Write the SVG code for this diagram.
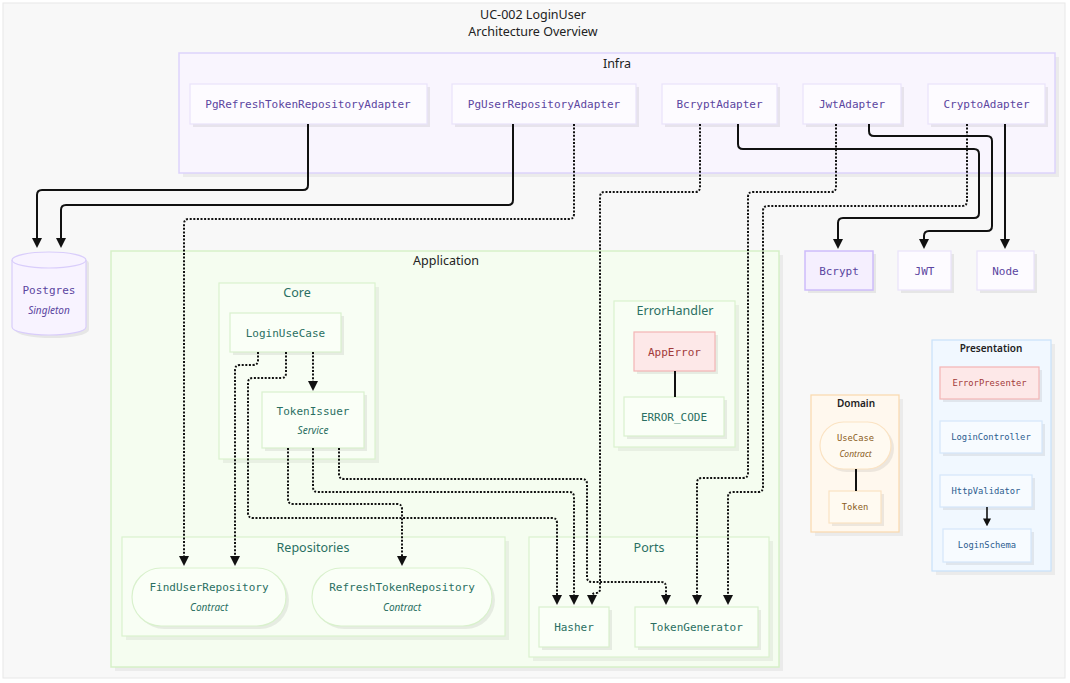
<svg xmlns="http://www.w3.org/2000/svg" width="1070" height="683" viewBox="0 0 1070 683">
<style>
text{font-family:"Noto Sans","Liberation Sans",sans-serif;text-anchor:middle;dominant-baseline:central}
.title{font-size:12.5px;fill:#222}
.glab{font-size:12.5px;fill:#222}
.glabt{font-size:12.5px;fill:#2a6f62}
.glabs{font-size:10px;font-weight:600;fill:#222}
.mono{font-family:"DejaVu Sans Mono","Liberation Mono",monospace;font-size:11px}
.monos{font-family:"DejaVu Sans Mono","Liberation Mono",monospace;font-size:8.8px}
.sub{font-style:italic;font-size:10px}
.subs{font-style:italic;font-size:8.5px}
.sh{fill:#000;opacity:.07}
.shc{fill:#000;opacity:.05}
.inf{fill:#fdfbff;stroke:#e9e3fb;stroke-width:1.2}
.inft{fill:#5b45a0}
.app{fill:#fafff7;stroke:#d9f1cd;stroke-width:1.2}
.appt{fill:#2a6f62}
.err{fill:#fde8e8;stroke:#f3b4b4;stroke-width:1.2}
.errt{fill:#a23a3a}
.pre{fill:#f7fbff;stroke:#d4e7fa;stroke-width:1.2}
.pret{fill:#2c5c8f}
.dom{fill:#fffaf1;stroke:#fbe3c3;stroke-width:1.2}
.domt{fill:#8a5c1c}
.ln{fill:none;stroke:#111;stroke-width:2}
.dt{fill:none;stroke:#111;stroke-width:2;stroke-dasharray:2 1.6}
</style>
<defs>
<marker id="ah" markerUnits="userSpaceOnUse" viewBox="0 0 10 10" refX="2" refY="5" markerWidth="10" markerHeight="10" orient="auto">
<path d="M0,0 L10,5 L0,10 z" fill="#111"/>
</marker>
<marker id="ahs" markerUnits="userSpaceOnUse" viewBox="0 0 10 10" refX="2" refY="5" markerWidth="8" markerHeight="8" orient="auto">
<path d="M0,0 L10,5 L0,10 z" fill="#111"/>
</marker>
</defs>
<rect x="0" y="0" width="1070" height="683" fill="#ffffff"/>
<rect x="3" y="3" width="1062" height="675" fill="#f8f8f8" stroke="#e8e8e8"/>
<text class="title" x="533" y="14">UC-002 LoginUser</text>
<text class="title" x="533" y="31">Architecture Overview</text>

<g id="cluster-infra">
<rect class="shc" x="183" y="57" width="876" height="120"/>
<rect x="179" y="53" width="876" height="120" fill="#f9f5fe" stroke="#ddd3fb" stroke-width="1.5"/>
<text class="glab" x="617" y="63">Infra</text>
</g>
<g id="cluster-application">
<rect class="shc" x="115" y="255" width="668" height="416"/>
<rect x="111" y="251" width="668" height="416" fill="#f5fdf0" stroke="#d6f1c8" stroke-width="1.5"/>
<text class="glab" x="446" y="260">Application</text>
</g>
<g id="cluster-core">
<rect class="shc" x="223" y="287" width="156" height="176"/>
<rect x="219" y="283" width="156" height="176" fill="#f8fef4" stroke="#daf2ce" stroke-width="1.2"/>
<text class="glabt" x="297" y="292">Core</text>
</g>
<g id="cluster-errorhandler">
<rect class="shc" x="618" y="305" width="121" height="146"/>
<rect x="614" y="301" width="121" height="146" fill="#f8fef4" stroke="#daf2ce" stroke-width="1.2"/>
<text class="glabt" x="675" y="310">ErrorHandler</text>
</g>
<g id="cluster-repositories">
<rect class="shc" x="126" y="541" width="383" height="99"/>
<rect x="122" y="537" width="383" height="99" fill="#f8fef4" stroke="#daf2ce" stroke-width="1.2"/>
<text class="glabt" x="313" y="547">Repositories</text>
</g>
<g id="cluster-ports">
<rect class="shc" x="533" y="541" width="240" height="120"/>
<rect x="529" y="537" width="240" height="120" fill="#f8fef4" stroke="#daf2ce" stroke-width="1.2"/>
<text class="glabt" x="649" y="547">Ports</text>
</g>
<g id="cluster-domain">
<rect class="shc" x="815" y="399" width="88" height="137"/>
<rect x="811" y="395" width="88" height="137" fill="#fff8ee" stroke="#fad9ad" stroke-width="1.2"/>
<text class="glabs" x="856" y="403">Domain</text>
</g>
<g id="cluster-presentation">
<rect class="shc" x="936" y="344" width="119" height="231"/>
<rect x="932" y="340" width="119" height="231" fill="#f1f8ff" stroke="#c9e2fa" stroke-width="1.2"/>
<text class="glabs" x="991" y="348">Presentation</text>
</g>

<g id="node-pgrefresh"><rect class="sh" x="193" y="87" width="237" height="40"/><rect class="inf" x="190" y="84" width="237" height="40"/><text class="mono inft" x="308" y="104">PgRefreshTokenRepositoryAdapter</text></g>
<g id="node-pguser"><rect class="sh" x="455" y="87" width="184" height="40"/><rect class="inf" x="452" y="84" width="184" height="40"/><text class="mono inft" x="544" y="104">PgUserRepositoryAdapter</text></g>
<g id="node-bcryptadapter"><rect class="sh" x="665" y="87" width="115" height="40"/><rect class="inf" x="662" y="84" width="115" height="40"/><text class="mono inft" x="719.5" y="104">BcryptAdapter</text></g>
<g id="node-jwtadapter"><rect class="sh" x="806" y="87" width="98" height="40"/><rect class="inf" x="803" y="84" width="98" height="40"/><text class="mono inft" x="852" y="104">JwtAdapter</text></g>
<g id="node-cryptoadapter"><rect class="sh" x="931" y="87" width="117" height="40"/><rect class="inf" x="928" y="84" width="117" height="40"/><text class="mono inft" x="986.5" y="104">CryptoAdapter</text></g>

<g id="node-postgres">
<path class="sh" d="M15,263 A37,8 0 0,1 89,263 V330 A37,8 0 0,1 15,330 Z"/>
<path d="M12,260 A37,8 0 0,1 86,260 V327 A37,8 0 0,1 12,327 Z" fill="#f8f3ff" stroke="#d9cdfb" stroke-width="1.2"/>
<path d="M12,260 A37,8 0 0,0 86,260" fill="none" stroke="#d9cdfb" stroke-width="1.2"/>
<text class="mono inft" x="49" y="290">Postgres</text>
<text class="sub inft" x="49" y="310">Singleton</text>
</g>
<g id="node-bcrypt"><rect class="sh" x="808" y="254" width="68" height="39"/><rect x="805" y="251" width="68" height="39" fill="#f5effe" stroke="#cdbcfa" stroke-width="1.5"/><text class="mono inft" x="839" y="271">Bcrypt</text></g>
<g id="node-jwt"><rect class="sh" x="901" y="254" width="53" height="39"/><rect class="inf" x="898" y="251" width="53" height="39"/><text class="mono inft" x="924.5" y="271">JWT</text></g>
<g id="node-node"><rect class="sh" x="980" y="254" width="57" height="39"/><rect class="inf" x="977" y="251" width="57" height="39"/><text class="mono inft" x="1005.5" y="271">Node</text></g>

<g id="node-loginusecase"><rect class="sh" x="233" y="316" width="111" height="39"/><rect class="app" x="230" y="313" width="111" height="39"/><text class="mono appt" x="285.5" y="333">LoginUseCase</text></g>
<g id="node-tokenissuer"><rect class="sh" x="265" y="395" width="102" height="56"/><rect class="app" x="262" y="392" width="102" height="56"/><text class="mono appt" x="313" y="411">TokenIssuer</text><text class="sub appt" x="313" y="430">Service</text></g>
<g id="node-apperror"><rect class="sh" x="637" y="335" width="81" height="39"/><rect class="err" x="634" y="332" width="81" height="39"/><text class="mono errt" x="674.5" y="352">AppError</text></g>
<g id="node-errorcode"><rect class="sh" x="627" y="400" width="100" height="39"/><rect class="app" x="624" y="397" width="100" height="39"/><text class="mono appt" x="674" y="417">ERROR_CODE</text></g>
<g id="node-finduserrepository"><rect class="sh" x="135" y="571" width="154" height="58" rx="29"/><rect class="app" x="132" y="568" width="154" height="58" rx="29"/><text class="mono appt" x="209" y="587">FindUserRepository</text><text class="sub appt" x="209" y="607">Contract</text></g>
<g id="node-refreshtokenrepository"><rect class="sh" x="315" y="571" width="180" height="58" rx="29"/><rect class="app" x="312" y="568" width="180" height="58" rx="29"/><text class="mono appt" x="402" y="587">RefreshTokenRepository</text><text class="sub appt" x="402" y="607">Contract</text></g>
<g id="node-hasher"><rect class="sh" x="542" y="610" width="70" height="40"/><rect class="app" x="539" y="607" width="70" height="40"/><text class="mono appt" x="574" y="627">Hasher</text></g>
<g id="node-tokengenerator"><rect class="sh" x="638" y="610" width="123" height="40"/><rect class="app" x="635" y="607" width="123" height="40"/><text class="mono appt" x="696.5" y="627">TokenGenerator</text></g>

<g id="node-usecase"><rect class="sh" x="823" y="425" width="71" height="47" rx="23.5"/><rect class="dom" x="820" y="422" width="71" height="47" rx="23.5"/><text class="monos domt" x="855.5" y="438">UseCase</text><text class="subs domt" x="855.5" y="453">Contract</text></g>
<g id="node-token"><rect class="sh" x="832" y="494" width="52" height="32"/><rect class="dom" x="829" y="491" width="52" height="32"/><text class="monos domt" x="855" y="507">Token</text></g>

<g id="node-errorpresenter"><rect class="sh" x="943" y="370" width="99" height="32"/><rect class="err" x="940" y="367" width="99" height="32"/><text class="monos errt" x="989.5" y="383">ErrorPresenter</text></g>
<g id="node-logincontroller"><rect class="sh" x="943" y="424" width="102" height="32"/><rect class="pre" x="940" y="421" width="102" height="32"/><text class="monos pret" x="991" y="437">LoginController</text></g>
<g id="node-httpvalidator"><rect class="sh" x="943" y="478" width="92" height="32"/><rect class="pre" x="940" y="475" width="92" height="32"/><text class="monos pret" x="986" y="491">HttpValidator</text></g>
<g id="node-loginschema"><rect class="sh" x="946" y="532" width="88" height="33"/><rect class="pre" x="943" y="529" width="88" height="33"/><text class="monos pret" x="987" y="545">LoginSchema</text></g>

<g id="connectors">
<path class="ln" marker-end="url(#ah)" d="M308,124 V185 Q308,190 303,190 H42 Q37,190 37,195 V240"/>
<path class="ln" marker-end="url(#ah)" d="M513,124 V200 Q513,205 508,205 H66 Q61,205 61,210 V240"/>
<path class="dt" marker-end="url(#ah)" d="M574,124 V214 Q574,219 569,219 H189 Q184,219 184,224 V558"/>
<path class="dt" marker-end="url(#ah)" d="M700,124 V187 Q700,192 695,192 H605 Q600,192 600,197 V589 Q600,593 596,593 Q592,593 592,597"/>
<path class="ln" marker-end="url(#ah)" d="M738,124 V144 Q738,149 743,149 H974 Q979,149 979,154 V213 Q979,218 974,218 H843 Q838,218 838,223 V241"/>
<path class="dt" marker-end="url(#ah)" d="M836,124 V187 Q836,192 831,192 H753 Q748,192 748,197 V473 Q748,478 743,478 H702 Q697,478 697,483 V597"/>
<path class="ln" marker-end="url(#ah)" d="M869,124 V131 Q869,136 874,136 H987 Q992,136 992,141 V226 Q992,231 987,231 H929 Q924,231 924,236 V241"/>
<path class="dt" marker-end="url(#ah)" d="M967,124 V201 Q967,206 962,206 H768 Q763,206 763,211 V487 Q763,492 758,492 H733 Q728,492 728,497 V597"/>
<path class="ln" marker-end="url(#ah)" d="M1005,124 V241"/>
<path class="dt" marker-end="url(#ah)" d="M258,352 V360 Q258,365 253,365 H240 Q235,365 235,370 V558"/>
<path class="dt" marker-end="url(#ah)" d="M286,352 V373 Q286,378 281,378 H253 Q248,378 248,383 V513 Q248,518 253,518 H552 Q557,518 557,523 V597"/>
<path class="dt" marker-end="url(#ah)" d="M313,352 V383"/>
<path class="dt" marker-end="url(#ah)" d="M288,448 V499 Q288,504 293,504 H397 Q402,504 402,509 V558"/>
<path class="dt" marker-end="url(#ah)" d="M313,448 V487 Q313,492 318,492 H569 Q574,492 574,497 V597"/>
<path class="dt" marker-end="url(#ah)" d="M339,448 V474 Q339,479 344,479 H582 Q587,479 587,484 V577 Q587,582 592,582 H661 Q666,582 666,587 V597"/>
<path class="ln" d="M675,371 V397"/>
<path class="ln" d="M856,469 V491"/>
<path fill="none" stroke="#111" stroke-width="1.6" marker-end="url(#ahs)" d="M987,507 V520"/>
</g>
</svg>
